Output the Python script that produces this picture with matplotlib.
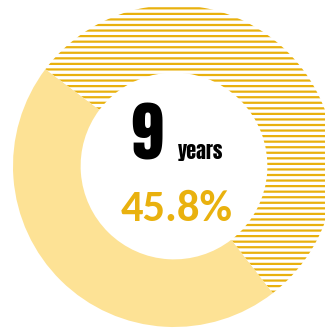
import matplotlib.pyplot as plt

# share of the ring: light part vs striped part
shares = [45.8, 54.2]
years_label = "9"
unit_label = "years"
pct_label = "45.8%"

GOLD = '#E9B10E'
LIGHT = '#FDE295'

W, H = 325, 328
plt.rcParams['hatch.linewidth'] = 1.6

fig = plt.figure(figsize=(W / 100, H / 100), dpi=100)
ax = fig.add_axes([0, 0, 1, 1])

R = 161
wedges, _ = ax.pie(shares, colors=[LIGHT, 'white'], startangle=143,
                   counterclock=True, center=(174, H - 166), radius=R,
                   hatch=['', '---'],
                   wedgeprops=dict(width=R * 0.42, linewidth=0))
wedges[0].set_edgecolor(LIGHT)
wedges[1].set_edgecolor(GOLD)

heavy = ['Anton', 'Oswald', 'Liberation Sans Narrow', 'DejaVu Sans']
ax.text(146.5, H - 160, years_label, ha='center', va='baseline',
        fontsize=47, family=heavy, color='black')
ax.text(178, H - 159, unit_label, ha='left', va='baseline',
        fontsize=14.5, family=heavy, color='black')
ax.text(176.5, H - 221, pct_label, ha='center', va='baseline',
        fontsize=32, fontweight='bold', family=['Carlito', 'Open Sans'],
        color=GOLD)

ax.set_xlim(0, W)
ax.set_ylim(0, H)
ax.set_aspect('auto')
ax.axis('off')

fig.savefig('out.png', dpi=100)
plt.close(fig)
